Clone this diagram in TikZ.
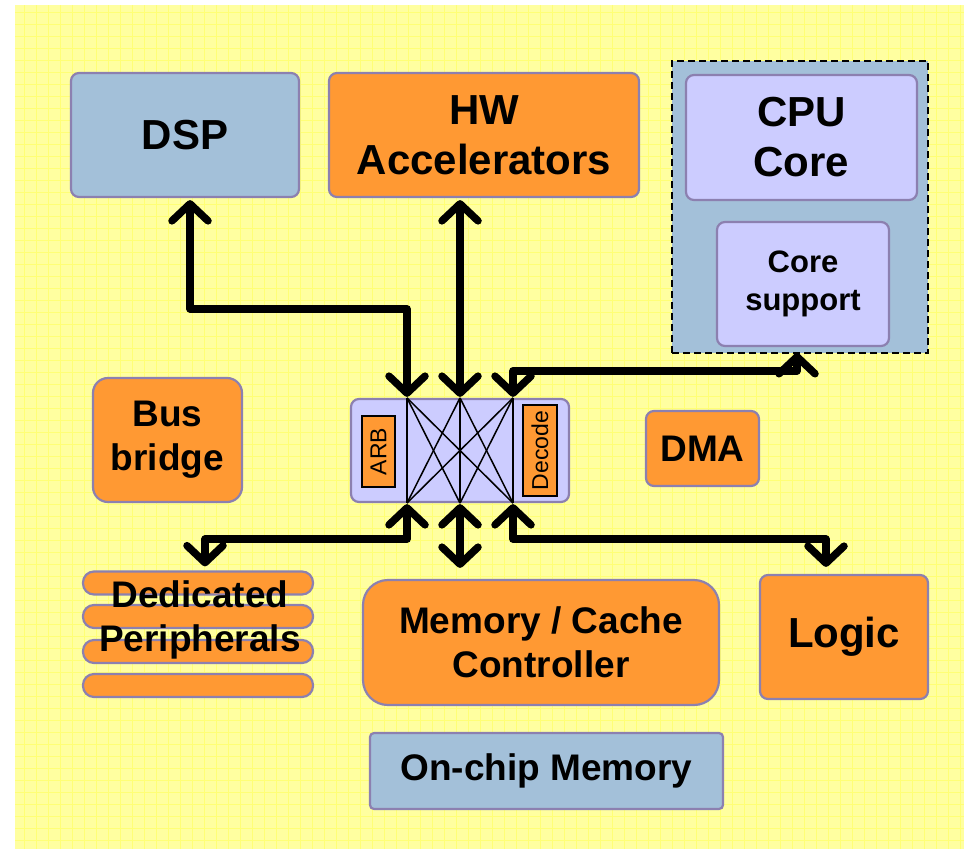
\documentclass[tikz,border=0pt]{standalone}
\usepackage{fontspec}
\setmainfont{Liberation Sans}
\usetikzlibrary{arrows.meta,calc}

\definecolor{bgyellow}{RGB}{255,255,160}
\definecolor{gridyellow}{RGB}{255,255,118}
\definecolor{blockorange}{RGB}{255,153,51}
\definecolor{blockblue}{RGB}{163,192,217}
\definecolor{blocklilac}{RGB}{204,204,255}
\definecolor{blockedge}{RGB}{140,128,176}

\tikzset{
  block/.style={draw=blockedge, line width=2.2pt, rounded corners=8pt,
    inner sep=0pt, align=center, font=\bfseries},
  orangeblock/.style={block, fill=blockorange},
  blueblock/.style={block, fill=blockblue},
  lilacblock/.style={block, fill=blocklilac},
  bigtext/.style={font=\bfseries\fontsize{42}{50}\selectfont},
  midtext/.style={font=\bfseries\fontsize{37}{44}\selectfont},
  smalltext/.style={font=\bfseries\fontsize{31}{38}\selectfont},
  tagtext/.style={font=\fontsize{23}{26}\selectfont},
  busline/.style={line width=7.5pt, line join=round, line cap=round,
    {Straight Barb[round,length=17pt,width=36pt,line width=7.5pt]}-{Straight Barb[round,length=17pt,width=36pt,line width=7.5pt]}},
  xbar/.style={line width=1.5pt},
  barshape/.style={draw=blockedge, line width=2.2pt, fill=blockorange,
    rounded corners=11pt, minimum width=230pt, minimum height=23pt, inner sep=0pt},
}

\begin{document}
\begin{tikzpicture}[x=1pt,y=-1pt]
  \useasboundingbox (0,0) rectangle (964,849);

  % patterned yellow backdrop
  \fill[bgyellow] (15,5) rectangle (964,849);
  \draw[gridyellow, line width=1pt, step=12pt] (15,5) grid (964,849);

  % upper row
  \node[blueblock, bigtext, minimum width=228pt, minimum height=124pt] (dsp) at (185,135) {DSP};
  \node[orangeblock, bigtext, minimum width=310pt, minimum height=124pt] (hw) at (484,135) {HW\\Accelerators};

  % CPU subsystem
  \node[draw=black, dash pattern=on 7pt off 4pt, line width=2pt, fill=blockblue, minimum width=256pt,
        minimum height=292pt, inner sep=0pt] (cpugrp) at (800,207) {};
  \node[lilacblock, bigtext, minimum width=231pt, minimum height=125pt] (cpu) at (801.5,137.5) {CPU\\Core};
  \node[lilacblock, smalltext, minimum width=172pt, minimum height=124pt] (cs) at (803,284) {Core\\support};

  % middle row
  \node[orangeblock, midtext, rounded corners=15pt, minimum width=149pt, minimum height=124pt] (bridge) at (167.5,440) {Bus\\bridge};
  \node[orangeblock, midtext, minimum width=113pt, minimum height=75pt] (dma) at (702.5,448.5) {DMA};

  % crossbar switch
  \node[lilacblock, minimum width=218pt, minimum height=103pt] (xb) at (460,450.5) {};
  \node[draw=black, line width=1.5pt, fill=blockorange, tagtext, minimum width=33pt,
        minimum height=71pt, inner sep=0pt] (arb) at (378.5,451.5) {\rotatebox{90}{ARB}};
  \node[draw=black, line width=1.5pt, fill=blockorange, tagtext, minimum width=34pt,
        minimum height=91pt, inner sep=0pt] (dec) at (540,450.5) {\rotatebox{90}{Decode}};

  \coordinate (t1) at ($(xb.north)+(-53,0)$);
  \coordinate (t2) at (xb.north);
  \coordinate (t3) at ($(xb.north)+(53,0)$);
  \coordinate (b1) at ($(xb.south)+(-53,0)$);
  \coordinate (b2) at (xb.south);
  \coordinate (b3) at ($(xb.south)+(53,0)$);
  \foreach \u in {t1,t2,t3}
    \foreach \v in {b1,b2,b3}
      \draw[xbar] (\u) -- (\v);

  % lower row
  \node[barshape] (bar1) at (198,583) {};
  \node[barshape] (bar2) at (198,616.5) {};
  \node[barshape] (bar3) at (198,651.5) {};
  \node[barshape] (bar4) at (198,685.5) {};
  \node[midtext, align=center, inner sep=0pt] (perilabel) at (200,620) {Dedicated\\Peripherals};

  \node[orangeblock, midtext, rounded corners=25pt, minimum width=356pt, minimum height=125pt] (mem) at (541,642.5) {Memory / Cache\\Controller};
  \node[orangeblock, bigtext, minimum width=168pt, minimum height=124pt] (logic) at (844,637) {Logic};
  \node[blueblock, midtext, rounded corners=4pt, minimum width=353pt, minimum height=76pt] (ocm) at (546.5,771) {On-chip Memory};

  % bus connections to the crossbar
  \draw[busline] ($(dsp.south)+(5,2)$) |- ($(t1)+(0,-89)$) -- ($(t1)+(0,-1)$);
  \draw[busline] ($(t2 |- hw.south)+(0,2)$) -- ($(t2)+(0,-1)$);
  \draw[busline] ($(t3)+(0,-1)$) -- ($(t3)+(0,-27)$) -| ($(cpugrp.south -| 797,0)+(0,-1)$);
  \draw[busline] ($(b1)+(0,1)$) -- ($(b1)+(0,36)$) -| ($(bar1.north -| 205,0)+(0,-4)$);
  \draw[busline] ($(b2)+(0,1)$) -- ($(mem.north -| b2)+(0,-11)$);
  \draw[busline] ($(b3)+(0,1)$) -- ($(b3)+(0,36)$) -| ($(logic.north -| 826,0)+(0,-7)$);
\end{tikzpicture}
\end{document}
